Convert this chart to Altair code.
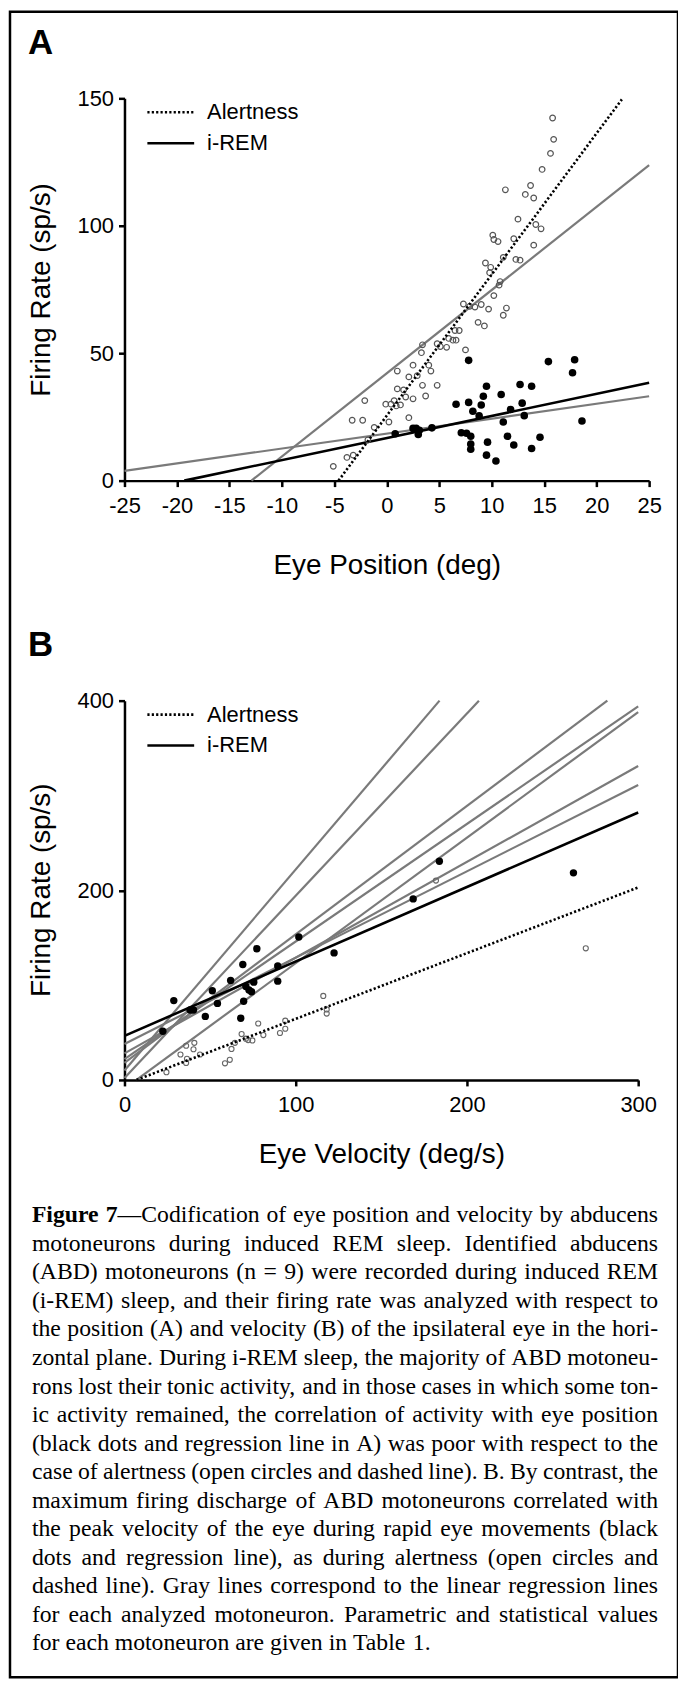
import altair as alt
import pandas as pd

W, H = 671, 1673  # framed figure = one view

# ---------------- Panel A (eye position) ----------------
a_alert_x = [-5.1, -3.8, -3.2, -3.3, -2.3, -2.1, -1.8, -1.2, -0.1, 0.2,
             0.4, 0.7, 1.0, 1.3, 1.0, 0.9, 1.6, 1.8, 2.1, 2.1,
             2.5, 2.5, 2.9, 3.3, 3.4, 3.4, 3.7, 4.0, 4.2, 4.8,
             4.8, 5.1, 5.7, 5.9, 6.3, 6.5, 6.9, 6.6, 7.3, 7.5,
             7.9, 8.4, 8.7, 9.0, 9.3, 9.4, 9.7, 9.9, 9.8, 10.2,
             10.1, 10.2, 10.6, 10.7, 10.8, 11.1, 11.1, 11.4, 11.3, 12.1,
             12.3, 12.7, 12.5, 13.2, 13.7, 14.0, 14.0, 14.2, 14.7, 14.8,
             15.6, 15.8, 15.9]
a_alert_y = [5.6, 9.1, 10.0, 23.7, 23.7, 31.4, 16.0, 20.9, 30.0, 23.0,
             30.0, 31.4, 36.0, 29.7, 43.0, 29.3, 35.6, 32.8, 24.7, 40.7,
             45.3, 32.1, 41.2, 50.2, 53.3, 37.4, 33.2, 45.3, 43.0, 37.4,
             53.7, 52.6, 52.3, 55.8, 55.1, 58.9, 58.9, 55.1, 69.3, 51.3,
             68.4, 68.1, 62.1, 69.1, 60.7, 85.4, 67.3, 83.7, 81.6, 72.6,
             96.3, 94.6, 93.8, 76.7, 78.1, 64.9, 87.6, 67.7, 114.1, 94.9,
             86.8, 86.5, 102.6, 112.3, 115.8, 110.9, 92.4, 100.5, 98.8, 122.1,
             128.4, 142.3, 133.9]
a_rem_x = [0.8, 2.5, 2.8, 3.0, 3.1, 4.3, 6.6, 7.1, 7.6, 7.8,
           7.8, 8.0, 8.0, 8.0, 8.2, 8.8, 9.0, 9.2, 9.5, 9.6,
           9.5, 10.4, 10.9, 11.1, 11.5, 11.8, 12.1, 12.7, 12.9, 13.1,
           13.8, 13.8, 14.6, 15.4, 17.7, 17.9, 18.6]
a_rem_y = [18.4, 20.5, 20.5, 18.1, 19.8, 20.7, 30.0, 18.8, 18.6, 47.2,
           30.7, 17.4, 14.4, 12.3, 27.2, 25.4, 29.7, 33.1, 37.0, 15.1,
           10.0, 7.7, 33.8, 23.0, 17.4, 27.9, 14.0, 37.7, 30.4, 25.5,
           37.0, 12.6, 17.0, 46.7, 42.3, 47.4, 23.4]
# regression lines, panel A (start/end points)
a_gray_x1 = [-12.9, -25.0]
a_gray_y1 = [0.0, 3.8]
a_gray_x2 = [25.0, 25.0]
a_gray_y2 = [123.8, 33.1]
a_rem_line = {"x": [-19.3], "y": [0.0], "x2": [25.0], "y2": [38.4]}
a_alert_line = {"x": [-4.6], "y": [0.0], "x2": [22.4], "y2": [149.6]}

# ---------------- Panel B (eye velocity) ----------------
b_rem_x = [22.4, 28.8, 38.3, 40.3, 47.2, 51.3, 54.3, 62.0, 67.9, 69.1,
           69.6, 70.9, 72.7, 74.2, 77.3, 75.5, 89.5, 89.5, 101.8, 122.4,
           168.6, 183.9, 262.2]
b_rem_y = [51.3, 83.7, 73.7, 73.7, 67.0, 94.1, 80.7, 104.9, 65.1, 121.7,
           83.0, 98.6, 94.9, 93.0, 138.4, 103.1, 120.2, 104.2, 150.7, 134.0,
           190.9, 230.7, 218.4]
b_alert_x = [24.5, 32.7, 36.0, 36.0, 36.5, 40.3, 40.8, 44.1, 58.7, 61.5,
             62.5, 64.5, 68.4, 70.9, 72.2, 74.7, 78.1, 81.1, 90.8, 93.9,
             93.9, 116.1, 118.1, 118.1, 181.9, 269.4]
b_alert_y = [8.2, 26.8, 36.1, 17.9, 22.3, 32.4, 39.1, 26.8, 17.5, 21.2,
             32.7, 39.1, 48.4, 43.5, 42.0, 41.7, 59.5, 47.3, 49.5, 54.0,
             62.5, 88.6, 74.4, 70.0, 210.2, 138.8]
b_gray_x1 = [0.0, 0.0, 0.0, 0.0, 7.0, 0.0, 0.0]
b_gray_y1 = [10.0, 2.0, 18.0, 22.0, 0.0, 28.0, 38.0]
b_gray_x2 = [184.0, 207.0, 282.0, 300.0, 300.0, 300.0, 300.0]
b_gray_y2 = [400.0, 400.0, 400.0, 394.0, 388.0, 331.0, 311.0]
b_rem_line = {"x": [0.0], "y": [46.5], "x2": [300.0], "y2": [282.0]}
b_alert_line = {"x": [7.0], "y": [0.0], "x2": [300.0], "y2": [203.0]}

# ---------------- caption ----------------
cap_lines = [
    "\u2014Codification of eye position and velocity by abducens",
    "motoneurons during induced REM sleep. Identified abducens",
    "(ABD) motoneurons (n = 9) were recorded during induced REM",
    "(i-REM) sleep, and their firing rate was analyzed with respect to",
    "the position (A) and velocity (B) of the ipsilateral eye in the hori-",
    "zontal plane. During i-REM sleep, the majority of ABD motoneu-",
    "rons lost their tonic activity, and in those cases in which some ton-",
    "ic activity remained, the correlation of activity with eye position",
    "(black dots and regression line in A) was poor with respect to the",
    "case of alertness (open circles and dashed line). B. By contrast, the",
    "maximum firing discharge of ABD motoneurons correlated with",
    "the peak velocity of the eye during rapid eye movements (black",
    "dots and regression line), as during alertness (open circles and",
    "dashed line). Gray lines correspond to the linear regression lines",
    "for each analyzed motoneuron. Parametric and statistical values",
    "for each motoneuron are given in Table 1.",
]

SANS = "Liberation Sans"
SERIF = "Liberation Serif"
CAP_SIZE = 23.8
CAP_LEFT, CAP_RIGHT = 22, 651  # view px, justified column

# Times (Liberation Serif) advance widths, 1/1000 em, for justification
_TW = {" ": 250, "(": 333, ")": 333, ",": 250, "-": 333, ".": 250, "=": 564,
       ":": 278, ";": 278, "\u2014": 1000,
       "A": 722, "B": 667, "C": 667, "D": 722, "E": 611, "F": 556, "G": 722,
       "H": 722, "I": 333, "J": 389, "K": 722, "L": 611, "M": 889, "N": 722,
       "O": 722, "P": 556, "Q": 722, "R": 667, "S": 556, "T": 611, "U": 722,
       "V": 722, "W": 944, "X": 722, "Y": 722, "Z": 611,
       "a": 444, "b": 500, "c": 444, "d": 500, "e": 444, "f": 333, "g": 500,
       "h": 500, "i": 278, "j": 278, "k": 500, "l": 278, "m": 778, "n": 500,
       "o": 500, "p": 500, "q": 500, "r": 333, "s": 389, "t": 278, "u": 500,
       "v": 500, "w": 722, "x": 500, "y": 500, "z": 444}
_TWB = {"F": 611, "i": 278, "g": 500, "u": 556, "r": 444, "e": 444, " ": 250,
        "7": 500}


def tw(s, bold=False):
    tab = _TWB if bold else _TW
    return sum(tab.get(c, 500) for c in s) * CAP_SIZE / 1000.0


def caption_rows():
    rows = []
    span = CAP_RIGHT - CAP_LEFT
    for i, line in enumerate(cap_lines):
        words = line.split(" ")
        toks = [(w, False) for w in words]
        if i == 0:
            toks = [("Figure", True), ("7" + words[0], None)] + toks[1:]
        widths = []
        for t, b in toks:
            if b is None:  # bold "7" glued to regular text
                widths.append(tw("7", True) + tw(t[1:]))
            else:
                widths.append(tw(t, b))
        gaps = len(toks) - 1
        last = i == len(cap_lines) - 1
        gap = tw(" ") if last else (span - sum(widths)) / gaps
        x = CAP_LEFT
        for (t, b), w in zip(toks, widths):
            if b is None:
                rows.append({"i": i, "px": x, "t": "7", "bold": True})
                rows.append({"i": i, "px": x + tw("7", True), "t": t[1:],
                             "bold": False})
            else:
                rows.append({"i": i, "px": x, "t": t, "bold": b})
            x += w + gap
    return pd.DataFrame(rows)


AX = alt.Scale(domain=[-25, 25], range=[115, 642], nice=False, zero=False)
AY = alt.Scale(domain=[0, 150], range=[471, 87], nice=False, zero=False)
BX = alt.Scale(domain=[0, 300], range=[115, 631], nice=False, zero=False)
BY = alt.Scale(domain=[0, 400], range=[1073, 692], nice=False, zero=False)
CX = alt.Scale(domain=[0, W], range=[0, W], nice=False, zero=False)
CY = alt.Scale(domain=[0, 15], range=[1209, 1639], nice=False, zero=False)

ax_style = dict(grid=False, domainColor="black", domainWidth=2.5,
                tickColor="black", tickWidth=2.5, tickSize=6,
                labelFont=SANS, labelFontSize=22, labelColor="black",
                titleFont=SANS, titleFontSize=28, titleColor="black",
                titleFontWeight="normal", labelOverlap=False, labelFlush=False)


def pts(xs, ys):
    return pd.DataFrame({"x": xs, "y": ys})


def seg(x1, y1, x2, y2):
    return pd.DataFrame({"x": x1, "y": y1, "x2": x2, "y2": y2})


def rules(df, sx, sy, **mk):
    return alt.Chart(df).mark_rule(**mk).encode(
        x=alt.X("x:Q", scale=sx, axis=None),
        y=alt.Y("y:Q", scale=sy, axis=None),
        x2="x2:Q", y2="y2:Q")


def points(df, sx, sy, xaxis=None, yaxis=None, filled=True, **mk):
    if filled:
        m = alt.Chart(df).mark_circle(opacity=1, **mk)
    else:
        m = alt.Chart(df).mark_point(filled=False, opacity=1, **mk)
    return m.encode(x=alt.X("x:Q", scale=sx, axis=xaxis),
                    y=alt.Y("y:Q", scale=sy, axis=yaxis))


GRAY = "#7a7a7a"
one = pd.DataFrame({"k": [0]})


def label(txt, x, y, size=22, weight="normal", font=SANS):
    return alt.Chart(one).mark_text(align="left", baseline="middle", font=font,
                                    fontSize=size, fontWeight=weight,
                                    color="black").encode(
        x=alt.value(x), y=alt.value(y), text=alt.value(txt))


def legend(y0):
    return [
        alt.Chart(one).mark_rule(color="black", strokeWidth=2.6,
                                 strokeDash=[2.2, 2.2]).encode(
            x=alt.value(138), x2=alt.value(185), y=alt.value(y0)),
        alt.Chart(one).mark_rule(color="black", strokeWidth=2.5).encode(
            x=alt.value(138), x2=alt.value(185), y=alt.value(y0 + 31)),
        label("Alertness", 198, y0),
        label("i-REM", 198, y0 + 31),
    ]


# ----- panel A layers -----
a_xaxis = alt.Axis(orient="bottom", offset=471 - H, values=list(range(-25, 26, 5)),
                   labelExpr="datum.value + ''", labelPadding=9,
                   title="Eye Position (deg)", titleY=93,
                   titleBaseline="alphabetic", **ax_style)
a_yaxis = alt.Axis(orient="left", offset=-115, values=[0, 50, 100, 150],
                   labelPadding=5, title="Firing Rate (sp/s)", titleX=-83,
                   titleY=279, titleAngle=270, titleAlign="center",
                   titleBaseline="middle", **ax_style)
A = [
    rules(seg(a_gray_x1, a_gray_y1, a_gray_x2, a_gray_y2), AX, AY,
          color=GRAY, strokeWidth=2.2),
    rules(pd.DataFrame(a_rem_line), AX, AY, color="black", strokeWidth=2.6),
    points(pts(a_alert_x, a_alert_y), AX, AY, a_xaxis, a_yaxis, filled=False,
           shape="circle", size=32, stroke="#555555", strokeWidth=1.2),
    points(pts(a_rem_x, a_rem_y), AX, AY, size=58, color="black"),
    rules(pd.DataFrame(a_alert_line), AX, AY, color="black", strokeWidth=2.6,
          strokeDash=[2.2, 2.2]),
]

# ----- panel B layers -----
b_xaxis = alt.Axis(orient="bottom", offset=1073 - H, values=[0, 100, 200, 300],
                   labelPadding=9, title="Eye Velocity (deg/s)", titleY=83,
                   titleBaseline="alphabetic", **ax_style)
b_yaxis = alt.Axis(orient="left", offset=-115, values=[0, 200, 400],
                   labelPadding=5, title="Firing Rate (sp/s)", titleX=-83,
                   titleY=882, titleAngle=270, titleAlign="center",
                   titleBaseline="middle", **ax_style)
B = [
    rules(seg(b_gray_x1, b_gray_y1, b_gray_x2, b_gray_y2), BX, BY,
          color=GRAY, strokeWidth=2.2),
    rules(pd.DataFrame(b_rem_line), BX, BY, color="black", strokeWidth=2.6),
    points(pts(b_alert_x, b_alert_y), BX, BY, b_xaxis, b_yaxis, filled=False,
           shape="circle", size=26, stroke="#666666", strokeWidth=1.1),
    points(pts(b_rem_x, b_rem_y), BX, BY, size=55, color="black"),
    rules(pd.DataFrame(b_alert_line), BX, BY, color="black", strokeWidth=2.6,
          strokeDash=[2.2, 2.2]),
]

# ----- caption (justified) -----
cap_df = caption_rows()


def cap_layer(df, weight):
    return alt.Chart(df).mark_text(align="left", baseline="middle", font=SERIF,
                                   fontSize=CAP_SIZE, fontWeight=weight,
                                   color="black").encode(
        x=alt.X("px:Q", scale=CX, axis=None),
        y=alt.Y("i:Q", scale=CY, axis=None), text="t:N")


CAP = [cap_layer(cap_df[cap_df["bold"]], "bold"),
       cap_layer(cap_df[~cap_df["bold"]], "normal")]

DECOR = [label("A", 18, 31, size=35, weight="bold"),
         label("B", 18, 636, size=35, weight="bold")] + legend(101) + legend(706)

chart = alt.layer(*(A + B + CAP + DECOR)).resolve_scale(
    x="independent", y="independent"
).properties(
    width=W, height=H,
    padding={"left": 2, "top": 0, "right": 0, "bottom": 0},
).configure_view(stroke="black", strokeWidth=2.5)

chart.save("out.html", embed_options={"renderer": "svg", "actions": False})
